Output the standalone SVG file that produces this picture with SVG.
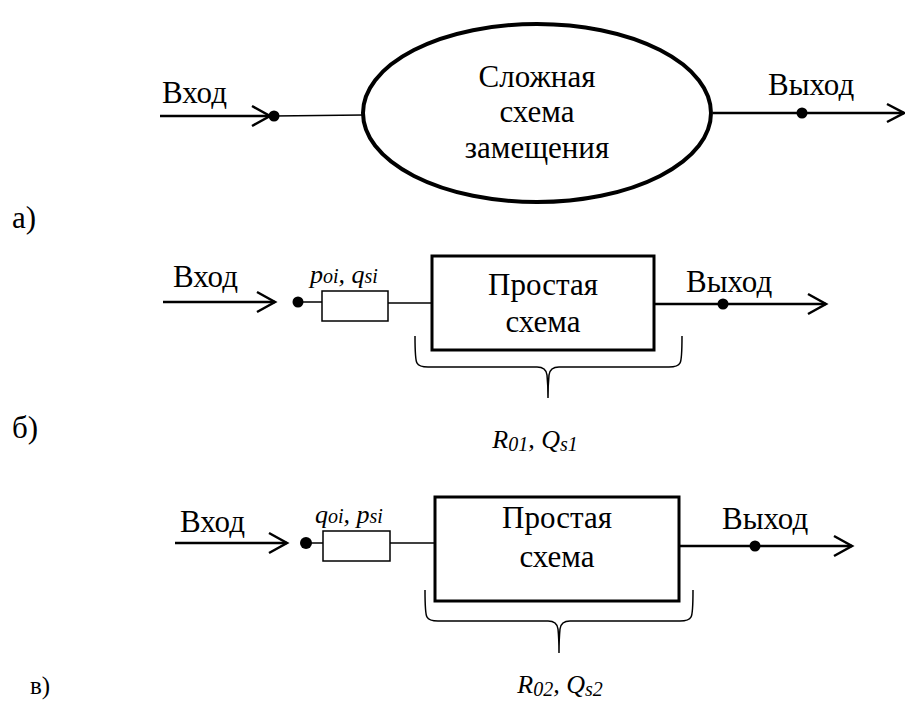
<svg xmlns="http://www.w3.org/2000/svg" width="905" height="704" viewBox="0 0 905 704">
<rect width="905" height="704" fill="#fff"/>

<g id="labels" fill="#000">
<text font-family="'Liberation Serif', 'DejaVu Serif', serif" font-size="31" x="12" y="228">а)</text>
<text font-family="'Liberation Serif', 'DejaVu Serif', serif" font-size="31" x="12" y="438">б)</text>
<text font-family="'Liberation Serif', 'DejaVu Serif', serif" font-size="25" x="30" y="694">в)</text>
</g>

<g id="connectors" stroke="#000" fill="none">
<g stroke-width="2.5">
<line x1="160" y1="116" x2="270" y2="116"/>
<polyline points="252,106 270,116 252,126"/>
<line x1="713" y1="113" x2="904" y2="113"/>
<polyline points="887,104 904,113 887,122"/>
<line x1="163" y1="302" x2="275" y2="302"/>
<polyline points="257,292 275,302 257,312"/>
<line x1="654" y1="304" x2="826" y2="304"/>
<polyline points="808,294 826,304 808,314"/>
<line x1="175" y1="543" x2="287" y2="543"/>
<polyline points="269,533 287,543 269,553"/>
<line x1="679" y1="546" x2="852" y2="546"/>
<polyline points="834,536 852,546 834,556"/>
</g>
<g stroke-width="1.5">
<line x1="274" y1="116" x2="363" y2="115"/>
<line x1="298" y1="302" x2="322" y2="302"/>
<line x1="388" y1="303" x2="432" y2="303"/>
<line x1="306" y1="543" x2="323" y2="543"/>
<line x1="390" y1="543" x2="435" y2="543"/>
</g>
</g>

<g id="nodeA">
<ellipse cx="537" cy="113" rx="174" ry="89" fill="#fff" stroke="#000" stroke-width="4"/>
<text font-family="'Liberation Serif', 'DejaVu Serif', serif" font-size="31" text-anchor="middle" x="537" y="87">Сложная</text>
<text font-family="'Liberation Serif', 'DejaVu Serif', serif" font-size="31" text-anchor="middle" x="537" y="122">схема</text>
<text font-family="'Liberation Serif', 'DejaVu Serif', serif" font-size="31" text-anchor="middle" x="537" y="158">замещения</text>
<text font-family="'Liberation Serif', 'DejaVu Serif', serif" font-size="31" x="162" y="103">Вход</text>
<text font-family="'Liberation Serif', 'DejaVu Serif', serif" font-size="31" x="768" y="95">Выход</text>
<circle cx="274" cy="116" r="5.5" fill="#000"/>
<circle cx="802" cy="113" r="5.5" fill="#000"/>
</g>

<g id="nodeB">
<rect x="432" y="256" width="222" height="94" fill="#fff" stroke="#000" stroke-width="3"/>
<text font-family="'Liberation Serif', 'DejaVu Serif', serif" font-size="31" text-anchor="middle" x="543" y="295">Простая</text>
<text font-family="'Liberation Serif', 'DejaVu Serif', serif" font-size="31" text-anchor="middle" x="543" y="332">схема</text>
<rect x="322" y="291" width="66" height="30" fill="#fff" stroke="#000" stroke-width="1.5"/>
<text font-family="'Liberation Serif', 'DejaVu Serif', serif" font-style="italic" font-size="26" x="310" y="283">p<tspan font-size="20">oi</tspan>, q<tspan font-size="20">si</tspan></text>
<text font-family="'Liberation Serif', 'DejaVu Serif', serif" font-size="31" x="173" y="287">Вход</text>
<text font-family="'Liberation Serif', 'DejaVu Serif', serif" font-size="31" x="686" y="292">Выход</text>
<circle cx="298" cy="302" r="5.5" fill="#000"/>
<circle cx="723" cy="304" r="5.5" fill="#000"/>
<path fill="none" stroke="#000" stroke-width="1.5" d="M415,336 Q415,360 417,363 Q419,367 428,367 L537,367 Q546,367 547,375 Q548,385 548,398 Q548,385 549,375 Q550,367 559,367 L669,367 Q678,367 680,363 Q682,360 682,336"/>
<text font-family="'Liberation Serif', 'DejaVu Serif', serif" font-style="italic" font-size="26" text-anchor="middle" x="535" y="448">R<tspan font-size="20" dy="3">01</tspan><tspan dy="-3">, Q</tspan><tspan font-size="20" dy="3">s1</tspan></text>
</g>

<g id="nodeC">
<rect x="435" y="497" width="244" height="104" fill="#fff" stroke="#000" stroke-width="3"/>
<text font-family="'Liberation Serif', 'DejaVu Serif', serif" font-size="31" text-anchor="middle" x="557" y="528">Простая</text>
<text font-family="'Liberation Serif', 'DejaVu Serif', serif" font-size="31" text-anchor="middle" x="557" y="567">схема</text>
<rect x="323" y="531" width="67" height="30" fill="#fff" stroke="#000" stroke-width="1.5"/>
<text font-family="'Liberation Serif', 'DejaVu Serif', serif" font-style="italic" font-size="26" x="315" y="523">q<tspan font-size="20">oi</tspan>, p<tspan font-size="20">si</tspan></text>
<text font-family="'Liberation Serif', 'DejaVu Serif', serif" font-size="31" x="180" y="532">Вход</text>
<text font-family="'Liberation Serif', 'DejaVu Serif', serif" font-size="31" x="722" y="529">Выход</text>
<circle cx="306" cy="543" r="6" fill="#000"/>
<circle cx="755" cy="546" r="5.5" fill="#000"/>
<path fill="none" stroke="#000" stroke-width="1.5" d="M425,590 Q425,614 427,617 Q429,621 438,621 L548,621 Q557,621 558,629 Q559,639 559,653 Q559,639 560,629 Q561,621 570,621 L680,621 Q689,621 691,617 Q693,614 693,590"/>
<text font-family="'Liberation Serif', 'DejaVu Serif', serif" font-style="italic" font-size="26" text-anchor="middle" x="560" y="693">R<tspan font-size="20" dy="3">02</tspan><tspan dy="-3">, Q</tspan><tspan font-size="20" dy="3">s2</tspan></text>
</g>
</svg>
